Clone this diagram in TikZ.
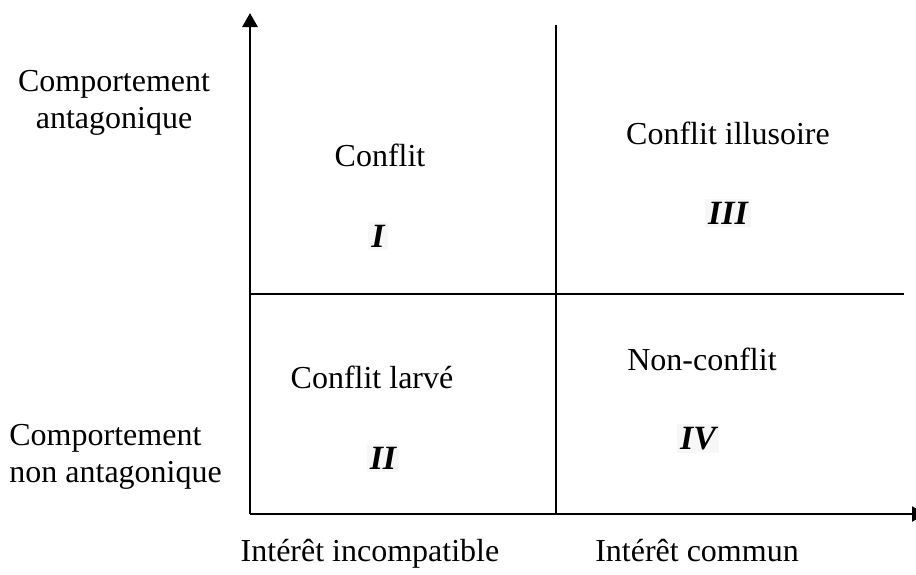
\documentclass[tikz,border=0pt]{standalone}
\usepackage{fontspec}
\setmainfont{Liberation Serif}
\usetikzlibrary{arrows.meta,positioning}
\definecolor{numeral_background}{HTML}{F7F7F7}
\tikzstyle{axis_line} =[line width=1.4pt]
\tikzstyle{split_line} =[line width=0.9pt]
\tikzstyle{quadrant_label} =[inner sep=0pt,anchor=base,font=\fontsize{16}{18.5}\selectfont]
\tikzstyle{quadrant_numeral} =[fill=numeral_background,inner sep=1.5pt,anchor=base,font=\fontsize{17}{18.5}\selectfont\bfseries\itshape]
\tikzstyle{axis_label} =[inner sep=0pt,font=\fontsize{16}{18.5}\selectfont]

\begin{document}
\begin{tikzpicture}[x=0.5pt,y={(0pt,-0.5pt)}]

    \useasboundingbox (0,0) rectangle (916,574);

    % Axes
    \coordinate (origin) at (250,514);
    \coordinate (vertical_axis_end) at (250,13);
    \coordinate (horizontal_axis_end) at (926,514);
    \draw[axis_line,-{Triangle[width=7.5pt,length=7pt]}] (origin) -- (vertical_axis_end);
    \draw[line width=1pt,-{Triangle[width=7.5pt,length=7pt]}] (origin) -- (horizontal_axis_end);

    % Quadrant separators
    \coordinate (middle_top) at (556,25);
    \coordinate (middle_bottom) at (556,514);
    \coordinate (middle_left) at (250,294);
    \coordinate (middle_right) at (904,294);
    \draw[split_line] (middle_top) -- (middle_bottom);
    \draw[split_line] (middle_left) -- (middle_right);

    % Quadrant texts
    \node[quadrant_label] (conflict_label) at (380,166) {Conflit};
    \node[quadrant_numeral] (conflict_numeral) at (378,247) {I};

    \node[quadrant_label] (illusory_conflict_label) at (728,144) {Conflit illusoire};
    \node[quadrant_numeral] (illusory_conflict_numeral) at (728,224) {III};

    \node[quadrant_label] (latent_conflict_label) at (372,388) {Conflit larvé};
    \node[quadrant_numeral] (latent_conflict_numeral) at (383,469) {II};

    \node[quadrant_label] (no_conflict_label) at (702,370) {Non-conflit};
    \node[quadrant_numeral] (no_conflict_numeral) at (698,449) {IV};

    % Axis labels
    \node[axis_label,align=center] (antagonistic_behaviour) at (114,103) {Comportement\\antagonique};
    \node[axis_label,align=left,anchor=west] (non_antagonistic_behaviour) at (9,457) {Comportement\\non antagonique};
    \node[axis_label,anchor=base] (incompatible_interest) at (370,561) {Intérêt incompatible};
    \node[axis_label,anchor=base] (common_interest) at (697,561) {Intérêt commun};

\end{tikzpicture}
\end{document}
